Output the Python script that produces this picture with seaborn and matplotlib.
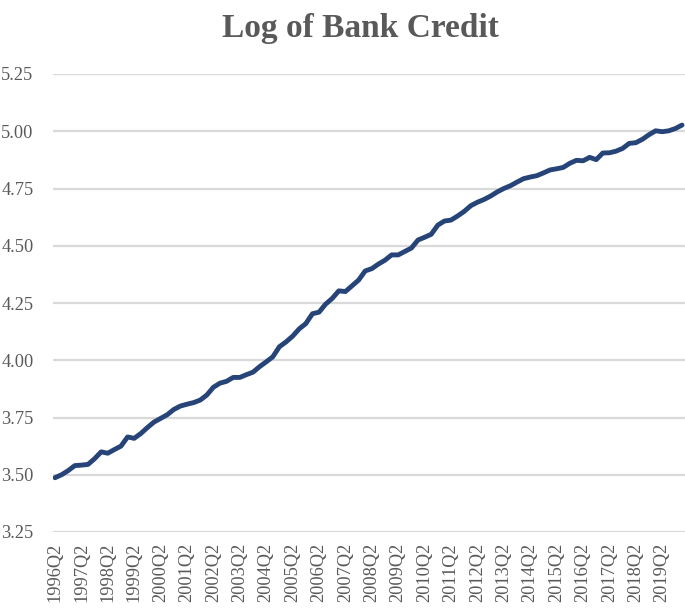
import matplotlib
matplotlib.use("Agg")
import matplotlib.pyplot as plt
import seaborn as sns
import pandas as pd

# Quarterly log bank credit, 1996Q2 .. 2020Q1
log_credit = [
    3.487, 3.500, 3.518, 3.540, 3.542, 3.545, 3.570, 3.600, 3.594, 3.610,
    3.625, 3.665, 3.659, 3.680, 3.706, 3.730, 3.746, 3.762, 3.785, 3.800,
    3.808, 3.815, 3.826, 3.848, 3.882, 3.900, 3.908, 3.925, 3.925, 3.937,
    3.948, 3.972, 3.993, 4.015, 4.059, 4.080, 4.105, 4.137, 4.160, 4.203,
    4.210, 4.245, 4.270, 4.303, 4.300, 4.325, 4.350, 4.390, 4.400, 4.420,
    4.437, 4.460, 4.460, 4.475, 4.490, 4.525, 4.537, 4.550, 4.590, 4.608,
    4.612, 4.630, 4.650, 4.675, 4.690, 4.702, 4.717, 4.735, 4.750, 4.762,
    4.778, 4.793, 4.800, 4.806, 4.818, 4.831, 4.836, 4.842, 4.860, 4.873,
    4.871, 4.886, 4.876, 4.905, 4.906, 4.913, 4.925, 4.947, 4.950, 4.965,
    4.985, 5.002, 4.998, 5.002, 5.012, 5.027,
]
tick_labels = [
    "1996Q2", "1997Q2", "1998Q2", "1999Q2", "2000Q2", "2001Q2", "2002Q2",
    "2003Q2", "2004Q2", "2005Q2", "2006Q2", "2007Q2", "2008Q2", "2009Q2",
    "2010Q2", "2011Q2", "2012Q2", "2013Q2", "2014Q2", "2015Q2", "2016Q2",
    "2017Q2", "2018Q2", "2019Q2",
]
y_ticks = [3.25, 3.50, 3.75, 4.00, 4.25, 4.50, 4.75, 5.00, 5.25]

df = pd.DataFrame({"idx": range(len(log_credit)), "value": log_credit})

sns.set_style("white")
plt.rcParams["font.family"] = ["Liberation Serif", "DejaVu Serif"]

fig = plt.figure(figsize=(6.85, 6.08), dpi=100)
ax = fig.add_axes([53 / 685, 1 - 532 / 608, (685 - 53) / 685, (532 - 74) / 608])

ax.grid(False)
for yv in y_ticks:
    ax.axhline(yv, color="#d9d9d9", linewidth=1.6, zorder=0)

sns.lineplot(data=df, x="idx", y="value", ax=ax, color="#264478",
             linewidth=3.5, zorder=3)
ax.lines[-1].set_solid_capstyle("round")
ax.lines[-1].set_solid_joinstyle("round")

ax.set_ylim(3.25, 5.25)
ax.set_xlim(-0.3, 95.45)
ax.set_yticks(y_ticks)
ax.set_yticklabels([f"{v:.2f}" for v in y_ticks])
ax.set_xticks(list(range(0, 4 * len(tick_labels), 4)))
ax.set_xticklabels(tick_labels, rotation=90)
ax.tick_params(axis="both", length=0, labelsize=13.2, labelcolor="#595959")
ax.tick_params(axis="y", pad=14)
ax.tick_params(axis="x", pad=8)
ax.set_xlabel("")
ax.set_ylabel("")
for s in ax.spines.values():
    s.set_visible(False)

fig.text(360 / 685, 1 - 28 / 608, "Log of Bank Credit", ha="center", va="center",
         fontsize=24, fontweight="bold", color="#595959")

fig.savefig("out.png", dpi=100)
